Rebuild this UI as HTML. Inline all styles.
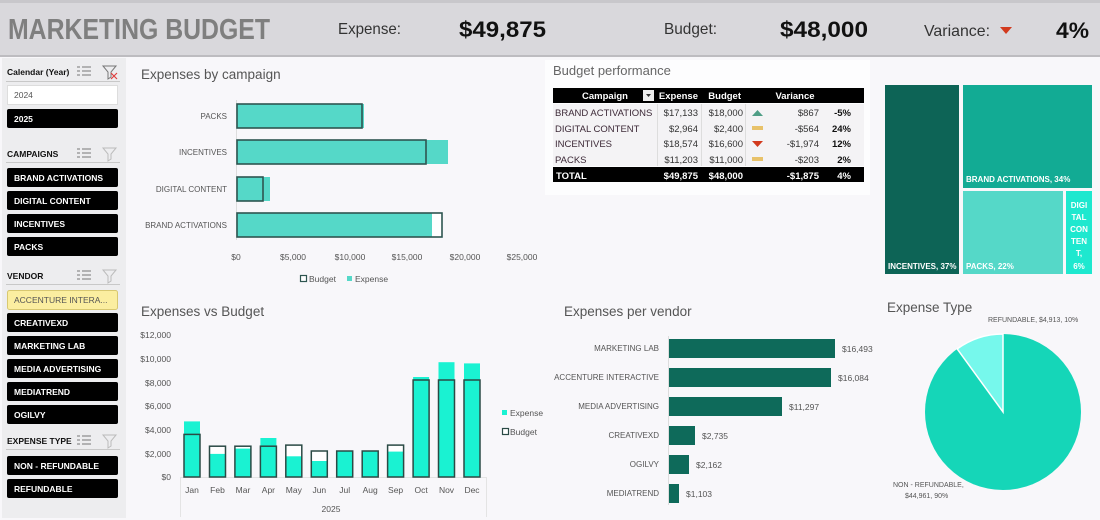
<!DOCTYPE html>
<html><head><meta charset="utf-8"><style>
html,body{margin:0;padding:0;background:#f8f7fa;}
svg{display:block;font-family:"Liberation Sans",sans-serif;}
</style></head><body>
<svg width="1100" height="520" viewBox="0 0 1100 520" xmlns="http://www.w3.org/2000/svg">
<rect x="0" y="0" width="1100" height="520" fill="#f8f7fa"/>
<rect x="0" y="0" width="1100" height="56" fill="#d9d8dc"/>
<rect x="0" y="0" width="1100" height="3" fill="#c8c7cb"/>
<rect x="0" y="55" width="1100" height="2" fill="#bdbcc0"/>
<text x="8" y="39" font-size="29" font-weight="bold" fill="#7f7f7f" textLength="262" lengthAdjust="spacingAndGlyphs">MARKETING BUDGET</text>
<text x="338" y="34" font-size="16" fill="#333" textLength="63" lengthAdjust="spacingAndGlyphs">Expense:</text>
<text x="459" y="37" font-size="22" font-weight="bold" fill="#111" textLength="87" lengthAdjust="spacingAndGlyphs">$49,875</text>
<text x="664" y="34" font-size="16" fill="#333" textLength="53" lengthAdjust="spacingAndGlyphs">Budget:</text>
<text x="780" y="37" font-size="22" font-weight="bold" fill="#111" textLength="88" lengthAdjust="spacingAndGlyphs">$48,000</text>
<text x="924" y="36" font-size="16" fill="#333" textLength="66" lengthAdjust="spacingAndGlyphs">Variance:</text>
<polygon points="1000,27 1012,27 1006,34" fill="#d23a1e"/>
<text x="1056" y="38" font-size="22" font-weight="bold" fill="#111" textLength="33" lengthAdjust="spacingAndGlyphs">4%</text>

<rect x="2" y="58" width="124" height="460" fill="#ededef"/>
<g font-size="8.5" font-weight="bold" fill="#111">
<text x="7" y="75">Calendar (Year)</text>
<text x="7" y="157">CAMPAIGNS</text>
<text x="7" y="279">VENDOR</text>
<text x="7" y="444">EXPENSE TYPE</text>
</g>
<g stroke="#c8c8c8" stroke-width="1">
<line x1="6" y1="81.5" x2="120" y2="81.5"/><line x1="6" y1="162.5" x2="120" y2="162.5"/>
<line x1="6" y1="284.5" x2="120" y2="284.5"/><line x1="6" y1="449.5" x2="120" y2="449.5"/>
</g>
<g stroke="#777" stroke-width="1" fill="none">
<path d="M77 67h3M77 71h3M77 75h3M82 67h9M82 71h9M82 75h9"/>
<path d="M77 149h3M77 153h3M77 157h3M82 149h9M82 153h9M82 157h9"/>
<path d="M77 271h3M77 275h3M77 279h3M82 271h9M82 275h9M82 279h9"/>
<path d="M77 436h3M77 440h3M77 444h3M82 436h9M82 440h9M82 444h9"/>
<path d="M103 66h13l-5 6v5l-3 2v-7z"/>
<path d="M103 148h13l-5 6v5l-3 2v-7z" stroke="#bbb"/>
<path d="M103 270h13l-5 6v5l-3 2v-7z" stroke="#bbb"/>
<path d="M103 435h13l-5 6v5l-3 2v-7z" stroke="#bbb"/>
</g>
<path d="M111 73l6 6M117 73l-6 6" stroke="#e04040" stroke-width="1.2"/>
<rect x="7.5" y="85.5" width="110" height="19" fill="#fff" stroke="#ddd"/>
<text x="14" y="98" font-size="8.5" fill="#555">2024</text>
<g fill="#000">
<rect x="7" y="109" width="111" height="19" rx="2"/>
<rect x="7" y="168" width="111" height="19" rx="2"/>
<rect x="7" y="191" width="111" height="19" rx="2"/>
<rect x="7" y="214" width="111" height="19" rx="2"/>
<rect x="7" y="237" width="111" height="19" rx="2"/>
<rect x="7" y="313" width="111" height="19" rx="2"/>
<rect x="7" y="336" width="111" height="19" rx="2"/>
<rect x="7" y="359" width="111" height="19" rx="2"/>
<rect x="7" y="382" width="111" height="19" rx="2"/>
<rect x="7" y="405" width="111" height="19" rx="2"/>
<rect x="7" y="456" width="111" height="19" rx="2"/>
<rect x="7" y="479" width="111" height="19" rx="2"/>
</g>
<rect x="7.5" y="290.5" width="110" height="19" rx="2" fill="#fbeea0" stroke="#d8c870"/>
<text x="14" y="303" font-size="8.5" fill="#555">ACCENTURE INTERA...</text>
<g font-size="8.5" font-weight="bold" fill="#fff">
<text x="14" y="122">2025</text>
<text x="14" y="181">BRAND ACTIVATIONS</text>
<text x="14" y="204">DIGITAL CONTENT</text>
<text x="14" y="227">INCENTIVES</text>
<text x="14" y="250">PACKS</text>
<text x="14" y="326">CREATIVEXD</text>
<text x="14" y="349">MARKETING LAB</text>
<text x="14" y="372">MEDIA ADVERTISING</text>
<text x="14" y="395">MEDIATREND</text>
<text x="14" y="418">OGILVY</text>
<text x="14" y="469">NON - REFUNDABLE</text>
<text x="14" y="492">REFUNDABLE</text>
</g>

<text x="141" y="79" font-size="13.5" fill="#555">Expenses by campaign</text>
<line x1="236.5" y1="100" x2="236.5" y2="240" stroke="#ddd"/>
<g font-size="8" fill="#555" text-anchor="end">
<text x="227" y="119">PACKS</text><text x="227" y="155">INCENTIVES</text>
<text x="227" y="192">DIGITAL CONTENT</text><text x="227" y="228">BRAND ACTIVATIONS</text>
</g>
<g>
<rect x="237" y="104" width="125" height="24" fill="#fff"/>
<rect x="237" y="104" width="127" height="24" fill="#55d8c8"/>
<rect x="237" y="104" width="125" height="24" fill="none" stroke="#2e5550" stroke-width="1.6"/>
<rect x="237" y="140" width="211" height="24" fill="#55d8c8"/>
<rect x="237" y="140" width="189" height="24" fill="none" stroke="#2e5550" stroke-width="1.6"/>
<rect x="237" y="177" width="33" height="24" fill="#55d8c8"/>
<rect x="237" y="177" width="26" height="24" fill="none" stroke="#2e5550" stroke-width="1.6"/>
<rect x="237" y="213" width="205" height="24" fill="#fff"/>
<rect x="237" y="213" width="195" height="24" fill="#55d8c8"/>
<rect x="237" y="213" width="205" height="24" fill="none" stroke="#2e5550" stroke-width="1.6"/>
</g>
<g font-size="8.5" fill="#555" text-anchor="middle">
<text x="236" y="260">$0</text><text x="293" y="260">$5,000</text><text x="350" y="260">$10,000</text>
<text x="407" y="260">$15,000</text><text x="465" y="260">$20,000</text><text x="522" y="260">$25,000</text>
</g>
<rect x="300.5" y="275.5" width="6" height="6" fill="#fff" stroke="#2e5550" stroke-width="1.2"/>
<text x="309" y="282" font-size="8.5" fill="#555">Budget</text>
<rect x="347" y="276" width="5" height="5" fill="#55d8c8"/>
<text x="355" y="282" font-size="8.5" fill="#555">Expense</text>

<rect x="545" y="60" width="325" height="135" fill="#fff" opacity="0.7"/>
<text x="553" y="75" font-size="13" fill="#666">Budget performance</text>
<rect x="553" y="88" width="311" height="15" fill="#000"/>
<rect x="553" y="104" width="311" height="62" fill="#f4f3f5"/>
<line x1="657.5" y1="104" x2="657.5" y2="166" stroke="#ddd"/>
<line x1="701.5" y1="104" x2="701.5" y2="166" stroke="#ddd"/>
<line x1="745.5" y1="104" x2="745.5" y2="166" stroke="#ddd"/>
<rect x="553" y="167" width="311" height="15" fill="#000"/>
<rect x="643" y="90" width="11" height="11" fill="#eee"/>
<polygon points="646,94 651,94 648.5,97" fill="#333"/>
<g font-size="9.5" font-weight="bold" fill="#fff">
<text x="605" y="99" text-anchor="middle">Campaign</text>
<text x="698" y="99" text-anchor="end">Expense</text>
<text x="741" y="99" text-anchor="end">Budget</text>
<text x="795" y="99" text-anchor="middle">Variance</text>
<text x="556" y="179">TOTAL</text>
<text x="698" y="179" text-anchor="end">$49,875</text>
<text x="743" y="179" text-anchor="end">$48,000</text>
<text x="819" y="179" text-anchor="end">-$1,875</text>
<text x="851" y="179" text-anchor="end">4%</text>
</g>
<g font-size="9.5" fill="#3d2a38">
<text x="555" y="116">BRAND ACTIVATIONS</text><text x="555" y="132">DIGITAL CONTENT</text>
<text x="555" y="147">INCENTIVES</text><text x="555" y="163">PACKS</text>
</g>
<g font-size="9.5" fill="#333" text-anchor="end">
<text x="698" y="116">$17,133</text><text x="743" y="116">$18,000</text><text x="819" y="116">$867</text>
<text x="698" y="132">$2,964</text><text x="743" y="132">$2,400</text><text x="819" y="132">-$564</text>
<text x="698" y="147">$18,574</text><text x="743" y="147">$16,600</text><text x="819" y="147">-$1,974</text>
<text x="698" y="163">$11,203</text><text x="743" y="163">$11,000</text><text x="819" y="163">-$203</text>
</g>
<g font-size="9.5" font-weight="bold" fill="#111" text-anchor="end">
<text x="851" y="116">-5%</text><text x="851" y="132">24%</text><text x="851" y="147">12%</text><text x="851" y="163">2%</text>
</g>
<polygon points="752,116 763,116 757.5,110" fill="#4f9e86"/>
<rect x="752" y="126" width="11" height="4" fill="#e8c26a"/>
<polygon points="752,141 763,141 757.5,147" fill="#d23a1e"/>
<rect x="752" y="157" width="11" height="4" fill="#e8c26a"/>

<rect x="885" y="85" width="74" height="189" fill="#0d6456"/>
<rect x="963" y="85" width="129" height="103" fill="#12ab94"/>
<rect x="963" y="191" width="100" height="83" fill="#55d8c8"/>
<rect x="1066" y="191" width="26" height="83" fill="#1ee8cf"/>
<g font-size="8" font-weight="bold" fill="#fff">
<text x="888" y="269">INCENTIVES, 37%</text>
<text x="966" y="182">BRAND ACTIVATIONS, 34%</text>
<text x="966" y="269">PACKS, 22%</text>
<g text-anchor="middle"><text x="1079" y="208">DIGI</text><text x="1079" y="220">TAL</text><text x="1079" y="232">CON</text><text x="1079" y="244">TEN</text><text x="1079" y="256">T,</text><text x="1079" y="269">6%</text></g>
</g>

<text x="141" y="316" font-size="13.5" fill="#555">Expenses vs Budget</text>
<g font-size="8.5" fill="#555" text-anchor="end">
<text x="171" y="480">$0</text><text x="171" y="457">$2,000</text><text x="171" y="433">$4,000</text>
<text x="171" y="409">$6,000</text><text x="171" y="386">$8,000</text><text x="171" y="362">$10,000</text><text x="171" y="338">$12,000</text>
</g>
<g stroke="#e4e4e4" fill="none"><path d="M180.5 477v40M486.5 477v40M180 477.5h306"/></g>
<g>
<rect x="184" y="421.4" width="16" height="55.6" fill="#1af2d2"/><rect x="184" y="434.4" width="16" height="42.6" fill="none" stroke="#2b4a45" stroke-width="1.5"/>
<rect x="209.5" y="446.2" width="16" height="30.8" fill="#fff"/><rect x="209.5" y="453.9" width="16" height="23.1" fill="#1af2d2"/><rect x="209.5" y="446.2" width="16" height="30.8" fill="none" stroke="#2b4a45" stroke-width="1.5"/>
<rect x="234.9" y="446.2" width="16" height="30.8" fill="#fff"/><rect x="234.9" y="448.6" width="16" height="28.4" fill="#1af2d2"/><rect x="234.9" y="446.2" width="16" height="30.8" fill="none" stroke="#2b4a45" stroke-width="1.5"/>
<rect x="260.4" y="438" width="16" height="39" fill="#1af2d2"/><rect x="260.4" y="446.2" width="16" height="30.8" fill="none" stroke="#2b4a45" stroke-width="1.5"/>
<rect x="285.8" y="445.1" width="16" height="31.9" fill="#fff"/><rect x="285.8" y="456.3" width="16" height="20.7" fill="#1af2d2"/><rect x="285.8" y="445.1" width="16" height="31.9" fill="none" stroke="#2b4a45" stroke-width="1.5"/>
<rect x="311.3" y="451" width="16" height="26" fill="#fff"/><rect x="311.3" y="461" width="16" height="16" fill="#1af2d2"/><rect x="311.3" y="451" width="16" height="26" fill="none" stroke="#2b4a45" stroke-width="1.5"/>
<rect x="336.7" y="451" width="16" height="26" fill="#1af2d2" stroke="#2b4a45" stroke-width="1.5"/>
<rect x="362.2" y="451" width="16" height="26" fill="#1af2d2" stroke="#2b4a45" stroke-width="1.5"/>
<rect x="387.6" y="445.1" width="16" height="31.9" fill="#fff"/><rect x="387.6" y="451.6" width="16" height="25.4" fill="#1af2d2"/><rect x="387.6" y="445.1" width="16" height="31.9" fill="none" stroke="#2b4a45" stroke-width="1.5"/>
<rect x="413.1" y="377" width="16" height="100" fill="#1af2d2"/><rect x="413.1" y="380" width="16" height="97" fill="none" stroke="#2b4a45" stroke-width="1.5"/>
<rect x="438.5" y="362.2" width="16" height="114.8" fill="#1af2d2"/><rect x="438.5" y="380" width="16" height="97" fill="none" stroke="#2b4a45" stroke-width="1.5"/>
<rect x="464" y="363.4" width="16" height="113.6" fill="#1af2d2"/><rect x="464" y="380" width="16" height="97" fill="none" stroke="#2b4a45" stroke-width="1.5"/>
</g>
<g font-size="8.5" fill="#555" text-anchor="middle">
<text x="192" y="493">Jan</text><text x="217.5" y="493">Feb</text><text x="243" y="493">Mar</text><text x="268.4" y="493">Apr</text>
<text x="293.8" y="493">May</text><text x="319.3" y="493">Jun</text><text x="344.7" y="493">Jul</text><text x="370.2" y="493">Aug</text>
<text x="395.6" y="493">Sep</text><text x="421.1" y="493">Oct</text><text x="446.5" y="493">Nov</text><text x="472" y="493">Dec</text>
<text x="331" y="512">2025</text>
</g>
<rect x="502" y="410" width="5" height="5" fill="#1af2d2"/>
<text x="510" y="416" font-size="8.5" fill="#555">Expense</text>
<rect x="502.5" y="428.5" width="6" height="6" fill="#fff" stroke="#2b4a45" stroke-width="1.2"/>
<text x="510" y="435" font-size="8.5" fill="#555">Budget</text>

<text x="564" y="316" font-size="13.5" fill="#555">Expenses per vendor</text>
<line x1="668.5" y1="336" x2="668.5" y2="505" stroke="#ddd"/>
<g fill="#0e6a5a">
<rect x="669" y="339" width="166" height="19"/><rect x="669" y="368" width="162" height="19"/>
<rect x="669" y="397" width="113" height="19"/><rect x="669" y="426" width="26" height="19"/>
<rect x="669" y="455" width="20" height="19"/><rect x="669" y="484" width="10" height="19"/>
</g>
<g font-size="8" fill="#555" text-anchor="end">
<text x="659" y="351">MARKETING LAB</text><text x="659" y="380">ACCENTURE INTERACTIVE</text>
<text x="659" y="409">MEDIA ADVERTISING</text><text x="659" y="438">CREATIVEXD</text>
<text x="659" y="467">OGILVY</text><text x="659" y="496">MEDIATREND</text>
</g>
<g font-size="8.5" fill="#555">
<text x="842" y="352">$16,493</text><text x="838" y="381">$16,084</text><text x="789" y="410">$11,297</text>
<text x="702" y="439">$2,735</text><text x="696" y="468">$2,162</text><text x="686" y="497">$1,103</text>
</g>

<text x="887" y="312" font-size="13.5" fill="#555">Expense Type</text>
<circle cx="1003" cy="412" r="78" fill="#15d6b8"/>
<path d="M1003 412 L1003 334 A78 78 0 0 0 957.2 348.9 Z" fill="#76f8ec" stroke="#fff" stroke-width="1.5"/>
<g font-size="7" fill="#555">
<text x="988" y="322">REFUNDABLE, $4,913, 10%</text>
<text x="893" y="487">NON - REFUNDABLE,</text>
<text x="905" y="498">$44,961, 90%</text>
</g>
</svg>
</body></html>
